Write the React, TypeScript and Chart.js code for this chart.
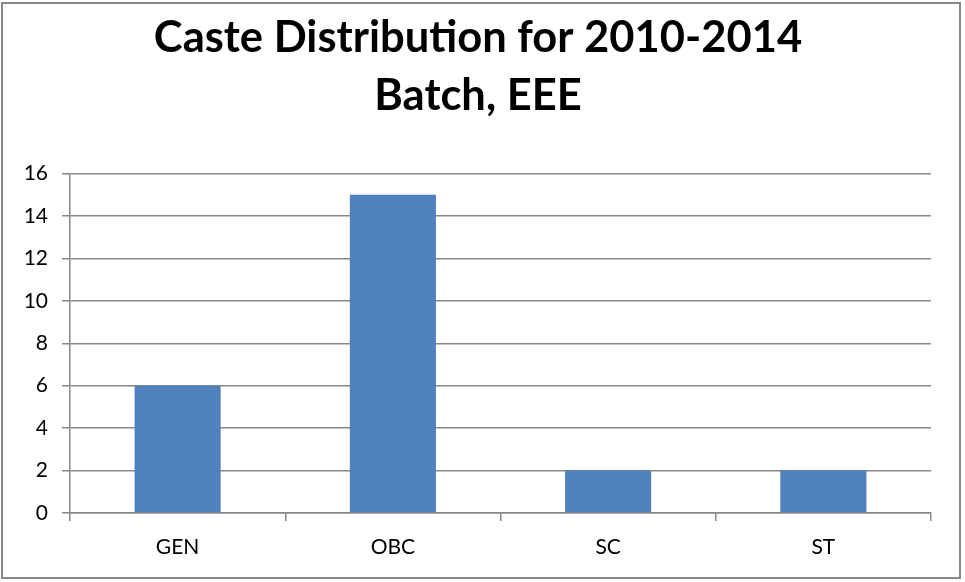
import React, { useEffect, useRef } from "react";
import { Chart, registerables } from "chart.js";

Chart.register(...registerables);

const categories = ["GEN", "OBC", "SC", "ST"];
const counts = [6, 15, 2, 2];
const titleLines = ["Caste Distribution for 2010-2014", "Batch, EEE"];
const yMin = 0;
const yMax = 16;
const yStep = 2;

const FONT = "Lato, 'Open Sans', sans-serif";
const GRID = "#878787";

const borderPlugin = {
  id: "outerBorder",
  beforeDraw(chart: any) {
    const ctx = chart.ctx;
    ctx.save();
    ctx.fillStyle = "#ffffff";
    ctx.fillRect(0, 0, chart.width, chart.height);
    ctx.strokeStyle = "#888888";
    ctx.lineWidth = 2;
    ctx.strokeRect(2, 3, 958, 575);
    ctx.restore();
  },
};

export default function App() {
  const ref = useRef<HTMLCanvasElement | null>(null);
  useEffect(() => {
    document.body.style.margin = "0";
    const chart = new Chart(ref.current as HTMLCanvasElement, {
      type: "bar",
      data: {
        labels: categories,
        datasets: [
          {
            data: counts,
            backgroundColor: "#4F81BD",
            barPercentage: 0.4,
            categoryPercentage: 1,
          },
        ],
      },
      options: {
        animation: false,
        responsive: false,
        devicePixelRatio: 1,
        layout: { padding: { top: 0, left: 25, right: 34, bottom: 20 } },
        plugins: {
          legend: { display: false },
          tooltip: { enabled: false },
          title: {
            display: true,
            text: titleLines,
            color: "#000000",
            font: { family: FONT, size: 43.5, weight: "bold", lineHeight: 1.34 },
            padding: { top: 9, bottom: 48 },
          },
        },
        scales: {
          x: {
            grid: {
              display: true,
              offset: true,
              drawOnChartArea: false,
              drawTicks: true,
              tickLength: 8,
              color: GRID,
              lineWidth: 1.5,
            },
            border: { display: true, color: GRID, width: 1.5 },
            ticks: {
              color: "#000000",
              font: { family: FONT, size: 21 },
              padding: 14,
            },
            afterFit(scale: any) {
              scale.height = 49;
            },
          },
          y: {
            min: yMin,
            max: yMax,
            grid: {
              color: GRID,
              lineWidth: 1.5,
              tickLength: 8,
              drawTicks: true,
            },
            border: { display: true, color: GRID, width: 1.5 },
            ticks: {
              stepSize: yStep,
              color: "#000000",
              font: { family: FONT, size: 21 },
              padding: 14,
            },
            afterFit(scale: any) {
              scale.width = 45;
            },
          },
        },
      },
      plugins: [borderPlugin],
    });
    return () => chart.destroy();
  }, []);
  return (
    <div style={{ position: "absolute", left: 0, top: 0, width: 965, height: 582 }}>
      <canvas ref={ref} width={965} height={582} style={{ display: "block" }} />
    </div>
  );
}
